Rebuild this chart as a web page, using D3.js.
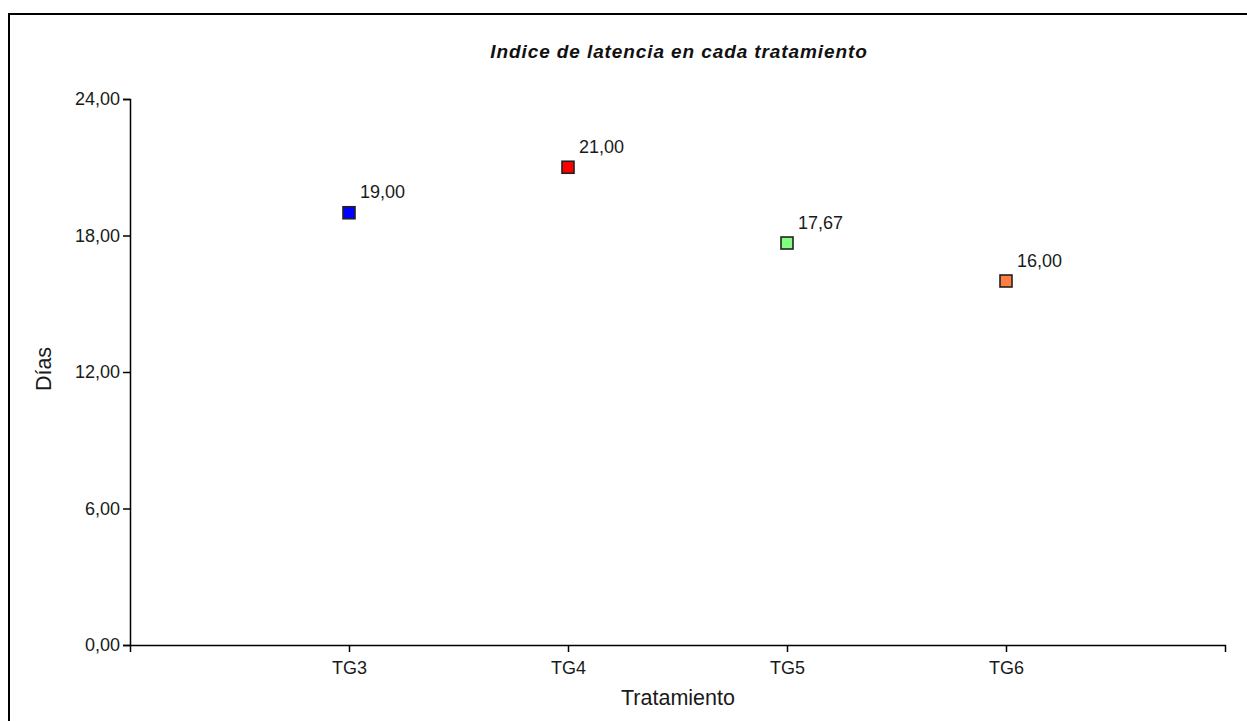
<!DOCTYPE html>
<html><head><meta charset="utf-8">
<script src="https://cdn.jsdelivr.net/npm/d3@7"></script>
<style>body{margin:0;background:#fff}svg{display:block}text{font-family:"Liberation Sans",Arial,sans-serif}</style>
</head><body>
<svg id="c" width="1247" height="721"></svg>
<script>
const categories = ["TG3","TG4","TG5","TG6"];
const values = [19.00, 21.00, 17.67, 16.00];
const colors = ["#0000ff","#ff0000","#80ff80","#ff7f40"];
const yTicks = [0, 6, 12, 18, 24];
const title = "Indice de latencia en cada tratamiento";
const xTitle = "Tratamiento";
const yTitle = "Días";

const svg = d3.select("#c");
const fmt = v => v.toFixed(2).replace(".", ",");
const FF = "Liberation Sans, Arial, sans-serif";

// outer frame
svg.append("rect").attr("x",9).attr("y",14).attr("width",1300).attr("height",800)
  .attr("fill","none").attr("stroke","#000").attr("stroke-width",2);

const x = d3.scaleLinear().domain([0, categories.length + 1]).range([130, 1225]);
const y = d3.scaleLinear().domain([0, 24]).range([645, 99]);

// y axis
const ya = svg.append("g").attr("transform","translate(130,0)")
  .call(d3.axisLeft(y).tickValues(yTicks).tickFormat(fmt).tickSize(7).tickPadding(3));
ya.select(".domain").attr("stroke","#000").attr("stroke-width",1.5);
ya.selectAll(".tick line").attr("stroke","#000").attr("stroke-width",1.5);
ya.selectAll(".tick text").attr("font-size",18).attr("fill","#1a1a1a").attr("font-family",FF);

// x axis
const xa = svg.append("g").attr("transform","translate(0,645)")
  .call(d3.axisBottom(x).tickValues(categories.map((c,i)=>i+1)).tickFormat((d)=>categories[d-1]).tickSize(7).tickSizeOuter(7).tickPadding(9));
xa.select(".domain").attr("stroke","#000").attr("stroke-width",1.5);
xa.selectAll(".tick line").attr("stroke","#000").attr("stroke-width",1.5);
xa.selectAll(".tick text").attr("font-size",18).attr("fill","#1a1a1a").attr("font-family",FF);

// points
const pts = svg.append("g");
categories.forEach((c,i)=>{
  const cx = x(i+1), cy = y(values[i]);
  pts.append("rect").attr("x",cx-6).attr("y",cy-6).attr("width",12).attr("height",12)
    .attr("fill",colors[i]).attr("stroke","#222").attr("stroke-width",1.6);
  pts.append("text").attr("x",cx+11).attr("y",cy-14.5).attr("font-size",18).attr("fill","#1a1a1a")
    .text(fmt(values[i]));
});

// titles
svg.append("text").attr("x",679).attr("y",58).attr("text-anchor","middle")
  .attr("font-size",19).attr("font-weight","bold").attr("font-style","italic")
  .attr("letter-spacing",0.9).attr("fill","#111").text(title);
svg.append("text").attr("x",678).attr("y",705).attr("text-anchor","middle")
  .attr("font-size",21.5).attr("fill","#1a1a1a").text(xTitle);
svg.append("text").attr("transform","translate(51,369) rotate(-90)").attr("text-anchor","middle")
  .attr("font-size",21.5).attr("fill","#1a1a1a").text(yTitle);
</script>
</body></html>
